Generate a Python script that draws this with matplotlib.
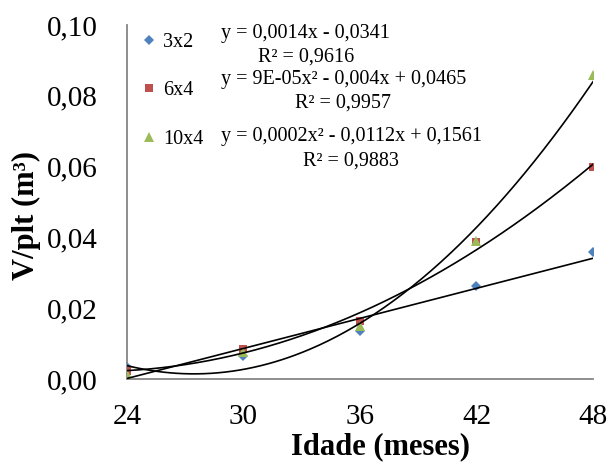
import numpy as np
import matplotlib
matplotlib.use("Agg")
import matplotlib.pyplot as plt
from matplotlib.ticker import FuncFormatter

plt.rcParams["font.family"] = ["Liberation Serif", "DejaVu Serif"]

idade = [24, 30, 36, 42, 48]
v_3x2 = [0.0034, 0.0065, 0.0135, 0.0262, 0.0360]
v_6x4 = [0.0022, 0.0085, 0.0163, 0.0386, 0.0600]
v_10x4 = [0.0015, 0.0075, 0.0150, 0.0390, 0.0860]

series = [
    ("3x2", v_3x2, 1, "D", "#4F81BD", 5.5),
    ("6x4", v_6x4, 2, "s", "#C0504D", 6.0),
    ("10x4", v_10x4, 2, "^", "#9BBB59", 6.5),
]

equations = [
    ("y = 0,0014x - 0,0341", "R² = 0,9616"),
    ("y = 9E-05x² - 0,004x + 0,0465", "R² = 0,9957"),
    ("y = 0,0002x² - 0,0112x + 0,1561", "R² = 0,9883"),
]
eq_pos = [(0.384, 0.977, 0.910), (0.464, 0.845, 0.780), (0.481, 0.684, 0.616)]

fig = plt.figure(figsize=(6.09, 4.62), dpi=100)
ax = fig.add_axes([0.2085, 0.1797, 0.7652, 0.7662])

xs = np.linspace(24, 48, 200)
handles = []
for name, vals, deg, mk, col, ms in series:
    h, = ax.plot(idade, vals, linestyle="none", marker=mk, color=col,
                 markersize=ms, markeredgewidth=0, label=name, zorder=3)
    handles.append(h)
    coef = np.polyfit(idade, vals, deg)
    ax.plot(xs, np.polyval(coef, xs), color="black", lw=1.2, zorder=4)

ax.set_xlim(24, 48)
ax.set_ylim(0, 0.10)
ax.set_xticks([24, 30, 36, 42, 48])
ax.set_yticks(np.arange(0, 0.101, 0.02))
ax.yaxis.set_major_formatter(FuncFormatter(lambda v, p: f"{v:.2f}".replace(".", ",")))
ax.tick_params(axis="both", length=0, labelsize=21)
ax.tick_params(axis="y", pad=21)
ax.tick_params(axis="x", pad=18)

for side in ("top", "right"):
    ax.spines[side].set_visible(False)
for side in ("left", "bottom"):
    ax.spines[side].set_color("#868686")
    ax.spines[side].set_linewidth(1.3)

ax.set_xlabel("Idade (meses)", fontsize=22, fontweight="bold")
ax.xaxis.set_label_coords(0.543, -0.149)
ax.set_ylabel("V/plt (m³)", fontsize=22, fontweight="bold")
ax.yaxis.set_label_coords(-0.185, 0.463)

leg = ax.legend(handles=handles, loc="upper left", bbox_to_anchor=(0.02, 1.0),
                frameon=False, fontsize=14.5, handlelength=0.5, handletextpad=0.45,
                labelspacing=1.45, borderpad=0.2, borderaxespad=0.2)

for (eq, r2), (xc, y1, y2) in zip(equations, eq_pos):
    ax.text(xc, y1, eq, transform=ax.transAxes, ha="center", va="center", fontsize=14.5)
    ax.text(xc, y2, r2, transform=ax.transAxes, ha="center", va="center", fontsize=14.5)

fig.savefig("out.png", dpi=100)
